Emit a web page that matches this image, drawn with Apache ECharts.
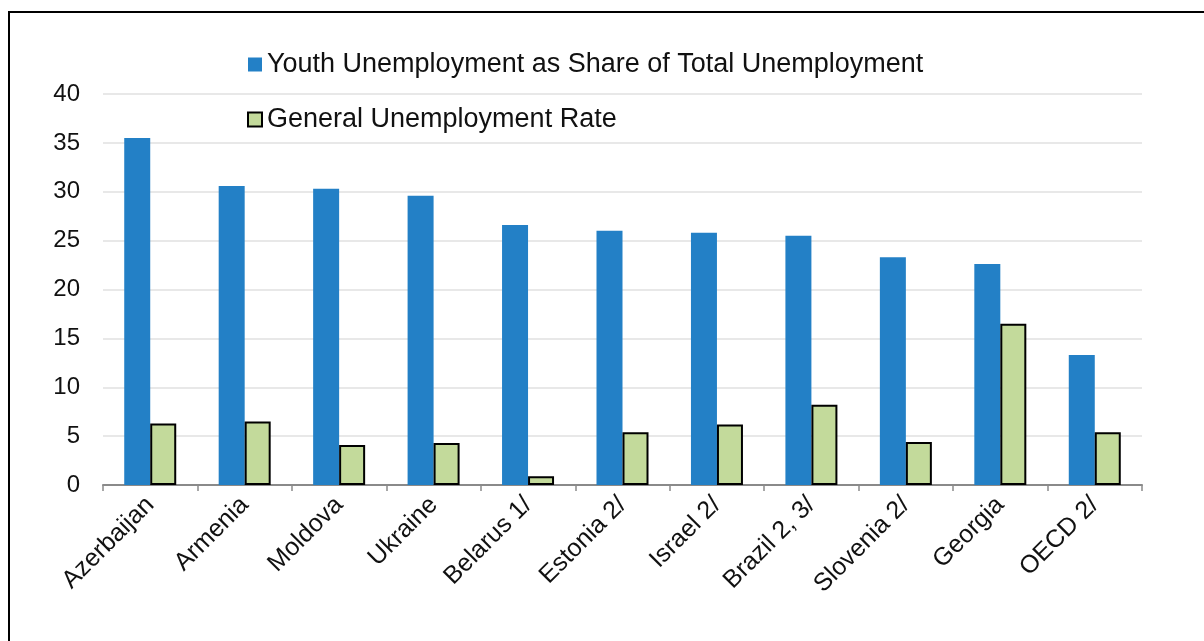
<!DOCTYPE html>
<html>
<head>
<meta charset="utf-8">
<script src="https://cdn.jsdelivr.net/npm/echarts@6/dist/echarts.min.js"></script>
<style>
html,body{margin:0;padding:0;background:#fff;}
#chart{width:1204px;height:641px;}
</style>
</head>
<body>
<div id="chart"></div>
<script>
const categories = ["Azerbaijan","Armenia","Moldova","Ukraine","Belarus 1/","Estonia 2/","Israel 2/","Brazil 2, 3/","Slovenia 2/","Georgia","OECD 2/"];
const youthShare = [35.5, 30.6, 30.3, 29.6, 26.6, 26.0, 25.8, 25.5, 23.3, 22.6, 13.3];
const generalRate = [6.3, 6.5, 4.1, 4.3, 0.9, 5.4, 6.2, 8.2, 4.4, 16.5, 5.4];
const seriesNames = ["Youth Unemployment as Share of Total Unemployment", "General Unemployment Rate"];

const font = "'Liberation Sans', Arial, sans-serif";
const chart = echarts.init(document.getElementById('chart'), null, {renderer: 'canvas'});
chart.setOption({
  animation: false,
  backgroundColor: '#ffffff',
  graphic: [{
    type: 'rect',
    shape: {x: 9, y: 12, width: 1300, height: 700},
    style: {fill: 'none', stroke: '#000', lineWidth: 2},
    silent: true, z: 100
  }],
  legend: {
    orient: 'vertical',
    left: 242,
    top: 46,
    itemWidth: 14,
    itemHeight: 14,
    itemGap: 28,
    textStyle: {fontFamily: font, fontSize: 27, color: '#111'},
    data: [
      {name: seriesNames[0], icon: 'rect'},
      {name: seriesNames[1], icon: 'rect', itemStyle: {color: '#c3da9b', borderColor: '#000', borderWidth: 2}}
    ]
  },
  grid: {left: 103, right: 62, top: 94, bottom: 156, containLabel: false},
  xAxis: {
    type: 'category',
    data: categories,
    axisLine: {lineStyle: {color: '#8a8a8a', width: 2}},
    axisTick: {show: true, length: 6, lineStyle: {color: '#8a8a8a', width: 1.5}},
    axisLabel: {rotate: 45, fontFamily: font, fontSize: 25, color: '#111', margin: 16, interval: 0}
  },
  yAxis: {
    type: 'value',
    min: 0, max: 40, interval: 5,
    axisLine: {show: false},
    axisTick: {show: false},
    axisLabel: {fontFamily: font, fontSize: 24, color: '#111', margin: 23},
    splitLine: {lineStyle: {color: '#e8e8e8', width: 2}}
  },
  series: [
    {
      name: seriesNames[0], type: 'bar', data: youthShare,
      barWidth: 26, barGap: '0%',
      itemStyle: {color: '#2380c6'}
    },
    {
      name: seriesNames[1], type: 'bar', data: generalRate,
      barWidth: 26,
      itemStyle: {color: '#c3da9b', borderColor: '#000', borderWidth: 2}
    }
  ]
});
</script>
</body>
</html>
